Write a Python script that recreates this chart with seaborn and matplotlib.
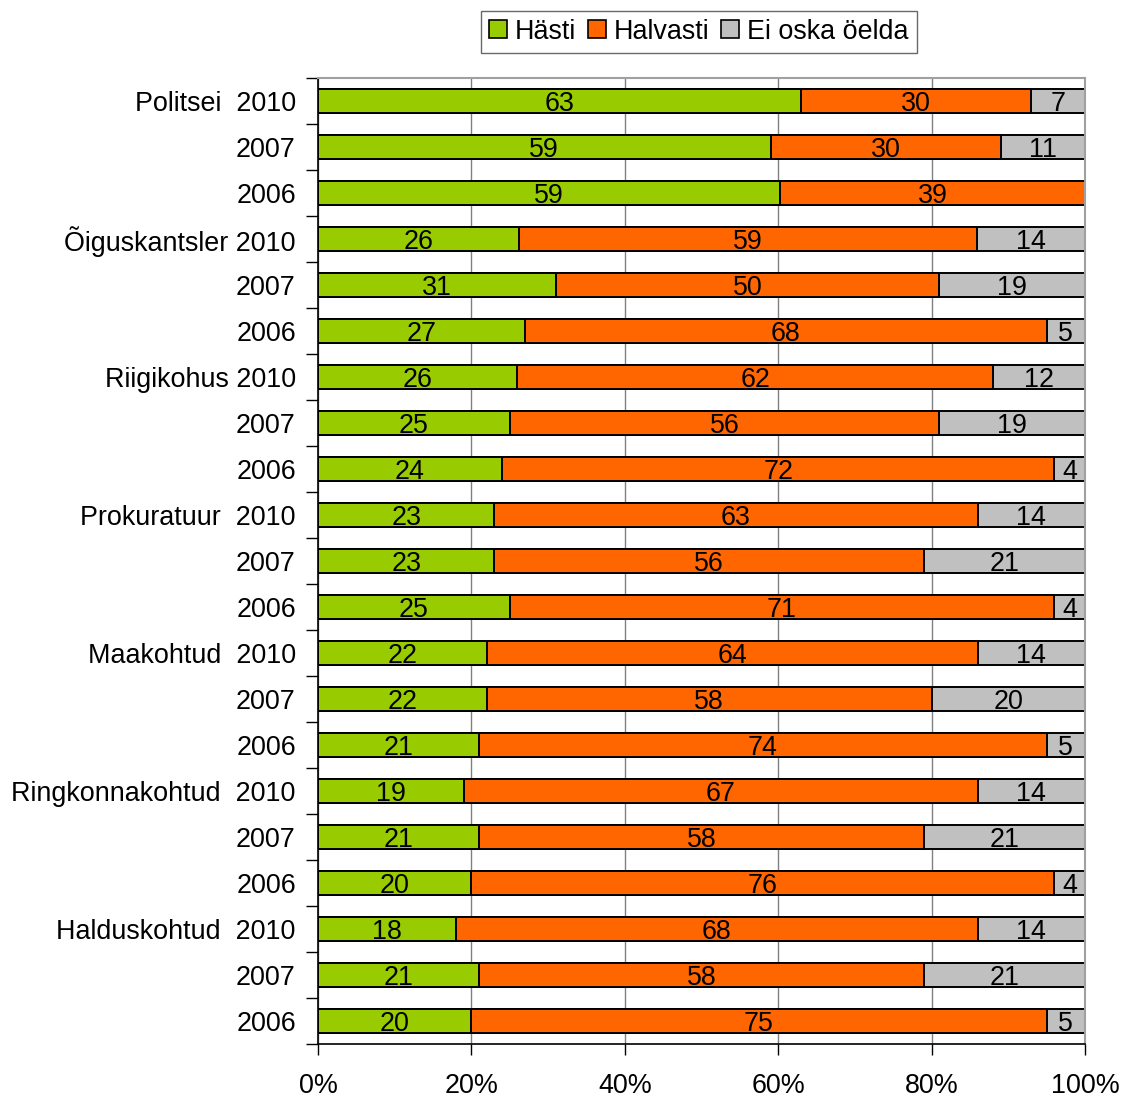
import matplotlib
matplotlib.use("Agg")
import matplotlib.pyplot as plt
import seaborn as sns
import pandas as pd
import numpy as np
from matplotlib.patches import Patch

row_labels = [
    "Politsei  2010", "2007", "2006",
    "Õiguskantsler 2010", "2007", "2006",
    "Riigikohus 2010", "2007", "2006",
    "Prokuratuur  2010", "2007", "2006",
    "Maakohtud  2010", "2007", "2006",
    "Ringkonnakohtud  2010", "2007", "2006",
    "Halduskohtud  2010", "2007", "2006",
]
hasti = [63, 59, 59, 26, 31, 27, 26, 25, 24, 23, 23, 25, 22, 22, 21, 19, 21, 20, 18, 21, 20]
halvasti = [30, 30, 39, 59, 50, 68, 62, 56, 72, 63, 56, 71, 64, 58, 74, 67, 58, 76, 68, 58, 75]
ei_oska = [7, 11, 0, 14, 19, 5, 12, 19, 4, 14, 21, 4, 14, 20, 5, 14, 21, 4, 14, 21, 5]
series_names = ["Hästi", "Halvasti", "Ei oska öelda"]
colors = ["#99CC00", "#FF6600", "#C0C0C0"]
x_ticks = [0, 20, 40, 60, 80, 100]

sns.set_style("white", rc={"text.color": "black", "xtick.color": "black",
                           "ytick.color": "black", "axes.labelcolor": "black"})
plt.rcParams["font.family"] = ["Liberation Sans", "DejaVu Sans"]

FS = 19.4

df = pd.DataFrame({"row": [f"r{i}" for i in range(len(row_labels))],
                   "v1": hasti, "v2": halvasti, "v3": ei_oska})
total = df[["v1", "v2", "v3"]].sum(axis=1)
df["p1"] = df["v1"] / total * 100
df["p2"] = df["v2"] / total * 100
df["p3"] = df["v3"] / total * 100
df["c1"] = df["p1"]
df["c2"] = df["p1"] + df["p2"]
df["c3"] = df["c2"] + df["p3"]
order = list(df["row"])

fig = plt.figure(figsize=(11.27, 11.0), dpi=100)
ax = fig.add_axes([318 / 1127, 1 - 1044 / 1100, (1085 - 318) / 1127, (1044 - 78) / 1100])

for col, color in zip(["c3", "c2", "c1"], colors[::-1]):
    sns.barplot(data=df, x=col, y="row", order=order, orient="h", color=color,
                saturation=1, edgecolor="black", linewidth=1.4, width=0.53,
                errorbar=None, ax=ax)

# data labels
for i, r in df.iterrows():
    starts = [0, r["c1"], r["c2"]]
    widths = [r["p1"], r["p2"], r["p3"]]
    vals = [r["v1"], r["v2"], r["v3"]]
    for s, w, v in zip(starts, widths, vals):
        if v > 0:
            ax.text(s + w / 2, i + 0.06, str(int(v)), ha="center", va="center",
                    fontsize=FS, color="black")

ax.set_xlim(0, 100)
ax.set_ylim(len(row_labels) - 0.5, -0.5)
ax.set_xlabel("")
ax.set_ylabel("")
ax.set_xticks(x_ticks)
ax.set_xticklabels([f"{t}%" for t in x_ticks])
ax.set_yticks(range(len(row_labels)))
ax.set_yticklabels(row_labels)
ax.set_yticks(np.arange(-0.5, len(row_labels), 1.0), minor=True)

ax.tick_params(axis="x", which="major", length=8, width=1, color="black",
               pad=13, labelsize=FS, labelcolor="black", direction="out", bottom=True)
ax.tick_params(axis="y", which="major", length=0, pad=16, labelsize=FS,
               labelcolor="black")
ax.tick_params(axis="y", which="minor", length=9, width=1, color="black",
               direction="out", left=True)

ax.set_axisbelow(True)
ax.xaxis.grid(True, color="#808080", linewidth=1)
ax.yaxis.grid(False)

for side in ["left", "bottom"]:
    ax.spines[side].set_color("black")
    ax.spines[side].set_linewidth(1.2)
for side in ["top", "right"]:
    ax.spines[side].set_color("#A0A0A0")
    ax.spines[side].set_linewidth(1.5)
    ax.spines[side].set_visible(True)

handles = [Patch(facecolor=c, edgecolor="black", linewidth=1.2) for c in colors]
leg = fig.legend(handles, series_names, loc="center", bbox_to_anchor=(0.62, 0.971),
                 ncol=3, frameon=True, fancybox=False, edgecolor="#444444",
                 fontsize=FS, handlelength=0.65, handleheight=0.65,
                 handletextpad=0.3, columnspacing=0.45, borderpad=0.3,
                 borderaxespad=0)
leg.get_frame().set_linewidth(1.0)

fig.savefig("out.png", dpi=100)
